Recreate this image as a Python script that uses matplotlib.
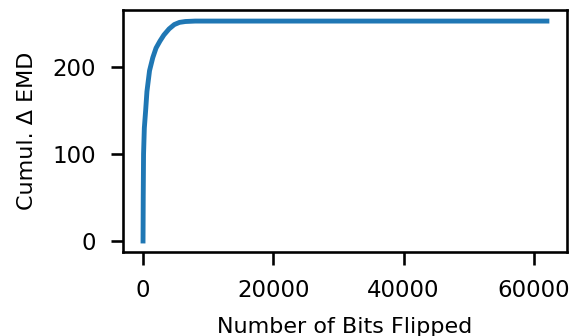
import matplotlib
matplotlib.use("Agg")
import matplotlib.pyplot as plt
import seaborn as sns

# data
bits_flipped = [0, 30, 80, 200, 400, 600, 1000, 1500, 2000, 2600, 3200,
                4000, 4800, 5600, 6500, 8000, 62000]
cumul_emd = [0, 50, 100, 130, 150, 172, 196, 211, 222, 230, 237,
             244, 249, 251.5, 252.5, 253, 253]

sns.set_context("talk")
plt.rcParams['font.family'] = ['DejaVu Sans']

fig = plt.figure(figsize=(5.74, 3.36), dpi=100)
ax = fig.add_axes([0.214, 0.25, 0.774, 0.72])

ax.plot(bits_flipped, cumul_emd, color='#1f77b4', linewidth=3.5)

ax.set_xlabel("Number of Bits Flipped", fontsize=16, labelpad=10.5)
ax.set_ylabel("Cumul. Δ EMD", fontsize=16, labelpad=11)
ax.set_xticks([0, 20000, 40000, 60000])
ax.set_yticks([0, 100, 200])
ax.tick_params(pad=10.5)

fig.savefig("out.png", dpi=100)
